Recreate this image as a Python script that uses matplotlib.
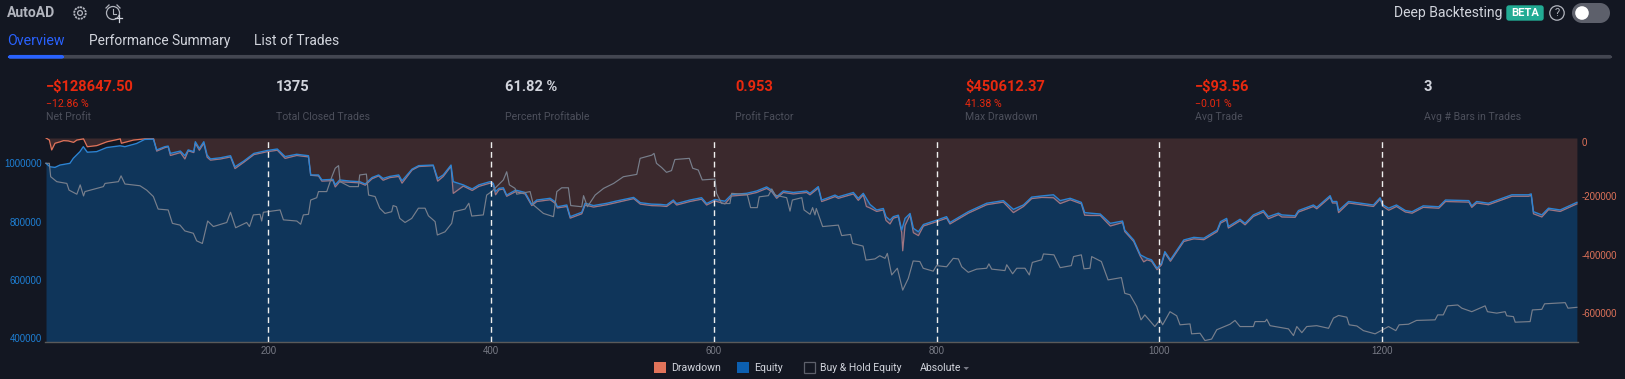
import matplotlib
matplotlib.use("Agg")
import matplotlib.pyplot as plt
from matplotlib.patches import Rectangle, Circle, FancyBboxPatch, Polygon

eq_x = [0.3,3.9,8.4,12.9,21.8,24.8,30.8,33.8,37.4,45.8,54.8,66.8,71.2,81.7,89,96.7,99.7,107,110,112,121,125,128,133,134.4,138,142,145,148,157,166,170,178,187,199,208,215,225.4,236,238,245,248,258,260,264,273,
282,287,293,299,303,309,317,320,329,335,348,352,357,364,366,375,383,389,399,402,404,407,411,414,422,430.5,436.5,441,453,457.5,459.5,468,471,481.4,484.4,492,504,513,528,534,544,552,
557.6,563.6,566.6,578.5,589,593.5,601,610,616,629.4,638.4,647.4,652,656.4,662.4,671.4,683.3,686.3,693.8,696.8,701.3,708.8,711.8,725.3,729.7,734.2,740.2,746.2,752.2,754.6,758.2,761.2,765.7,768.7,771.7,776.2,779.2,783.7,788.2,800.1,809,812,821,828.5,
845,860,869,878,885.4,894.4,905,911,920,930,933,938,947,956,967,969,977,983,989,993,998,1002,1005,1010,1022,1031,1040,1052,1055,1060.5,1062,1072.5,1077,1084.5,1093.5,1098,1107,
1110,1122,1125,1138.4,1141.4,1153.4,1155.5,1159.4,1161,1170,1177.4,1192.3,1198.3,1201,1206,1213,1221,1227,1237,1251,1257,1278,1280.6,1285,1295.6,1316.6,1331.5,1334,1336,1343.5,1349.5,1360,1375]
eq_vals = [1000,988,986,994,1000,1017,1040,1057,1038,1040,1054,1060,1057,1068,1082,1083,1046,1057,1059,1034,1042,1026,1046,1040,1074,1051,1074,1028,1015,1019,1026,988,1008,1034,1044,1049,1023,1031,1026,960,960,943,945,926,943,939,
937,929,951,960,948,955,960,940,980,992,994,948,960,994,937,926,912,926,937,931,903,914,916,891,908,900,859,874,880,868,851,857,817,832,863,855,863,871,883,865,860,859,
857,874,862,874,882,862,876,870,893,897,905,919,908,885,905,900,905,897,920,874,880,891,885,900,880,897,859,840,845,817,805,817,822,771,811,828,777,765,790,805,817,797,817,834,
863,872,842,857,884,888,892,872,880,866,831,829,826,794,802,771,737,686,674,669,640,657,697,669,737,746,743,771,800,811,783,808,794,823,838,817,829,
823,820,838,857,849,889,869,869,838,869,865,857,882,857,846,857,838,834,854,851,874,872,854,869,863,892,892,895,834,823,846,840,866]

bh_x = [0.3,3.3,4.5,10,19,21,28,31,34,35.3,51.8,53.3,65.3,67.7,71.2,84.7,90.7,96.7,101,110,113.8,120.6,125,132.6,135.6,140.7,145.5,150.6,162.6,166,170.6,180.5,183,186.5,192.5,194,195.5,210.5,213.5,225.5,229,231.4,236,238,243.4,245,252.4,257,260,263,264.4,273,
280.8,282,288,290,295.8,300,304.7,310.7,312,315,318,322.7,328.7,334.7,340.7,343.7,349.7,351.7,358.6,364.6,366.7,376.6,380,382.6,393,396,400.5,411,414,416.4,421.5,423,435,438,447,456,459,463.4,469.4,471.5,481.4,483,486.5,493.4,501,510,518.8,530.8,533.8,544.3,546.3,548.5,553,557.5,562,565,578,581,586,589.6,601,602.4,607,614.4,616,
630,633,639,640.8,649,652,655,665.4,668.4,670.5,679,681,686.4,688.7,690.8,692,697.7,711.8,714.8,722.8,724.7,734,736.6,744.7,749,753.7,755.8,759.7,764.8,769.6,774.6,779,785,788,797,800,809,815,819.6,822.6,828.5,
836,845,847,849.5,861.4,863,868.3,872,879.4,883.3,886,894.4,896,905.4,911,921,923,930,932.4,937.8,939.3,948,954,966,969,973.7,979.7,983.6,987,996,1000.7,1003,1009.6,1015.6,1018.6,1027.6,1029,1036.6,1041,1047,1051.6,1063.5,1068,1072.5,1084.5,1086,1095,1096.5,1099.5,1108.4,
1116,1120.5,1123.5,1128,1132.4,1141.4,1152,1156.4,1161,1168.4,1170.5,1177.4,1183.3,1193.8,1205.8,1212.4,1215.4,1223.8,1231,1247.7,1250,1255,1258.8,1268,1271.7,1280.6,1292.6,1294.7,1303,1310.6,1312,1318,1319.6,1333,1335,1343.5,1346,1364.5,1367,1375]
bh_vals = [1000,1000,954,937,931,908,894,926,888,903,920,931,937,957,929,923,908,886,843,840,794,788,768,760,734,725,802,783,797,832,779,797,783,823,825,802,832,840,806,802,791,823,825,874,882,903,903,954,983,992,937,920,
920,960,963,891,886,846,828,834,855,851,811,797,811,846,846,820,800,754,765,794,834,843,863,819,823,891,903,943,971,926,914,894,903,857,828,817,903,916,916,855,851,889,851,891,914,931,954,962,1017,1028,1034,1000,986,969,975,1013,1017,983,977,943,946,897,862,862,897,
893,848,848,885,889,912,891,882,836,874,882,840,825,848,823,845,783,788,752,756,725,716,668,672,683,674,691,617,640,565,605,665,663,640,630,649,645,674,672,645,626,
637,640,655,637,632,652,621,640,640,617,660,669,689,686,642,649,680,686,638,640,680,663,600,608,554,549,509,463,480,440,463,446,491,477,446,449,415,417,392,397,429,448,461,440,440,457,457,465,443,437,
432,409,440,419,440,443,434,469,478,472,446,442,426,415,440,426,446,448,461,463,480,480,511,514,503,491,511,491,486,491,477,474,455,457,497,499,518,522,503,506]

dd_x = [0.3,3.3,5.4,8.4,13,16,20.3,25,28,34,37.4,46,55,67,68,79,89,97,99.7,107,110,112,121,125,128,133,134.4,138,142,145,148,157,166,170,178,187,199,208,215,225.4,236,238,245,248,258,260,264,273,
282,287,293,299,303,309,317,320,329,335,348,352,357,364,366,375,383,389,399,402,404,407,411,414,422,430.5,436.5,441,453,457.5,459.5,468,471,481.4,484.4,492,504,513,528,534,544,552,
557.6,563.6,566.6,578.5,589,593.5,601,610,616,629.4,638.4,647.4,652,656.4,662.4,671.4,683.3,686.3,693.8,696.8,701.3,708.8,711.8,725.3,729.7,734.2,737,740.2,746.2,752.2,754.6,758.2,761.2,765.7,768.7,769.6,771.7,776.2,779.2,783.7,788.2,800.1,809,812,821,828.5,
845,860,869,878,885.4,894.4,905,911,920,930,933,938,947,956,967,969,977,983,986,989,993,998,1002,1005,1010,1022,1031,1040,1052,1055,1060.5,1062,1072.5,1077,1084.5,1093.5,1098,1107,
1110,1122,1125,1138.4,1141.4,1153.4,1155.5,1159.4,1161,1170,1177.4,1192.3,1198.3,1201,1206,1213,1221,1227,1237,1251,1257,1278,1280.6,1285,1295.6,1316.6,1331.5,1334,1336,1343.5,1349.5,1360,1375]
dd_vals = [0,-7,-41,-18,-13,-9,-10,-15,-7,-3,-30,-26,-13,-3,-18,-7,-3,-3,-45,-33,-30,-60,-50,-72,-44,-50,-18,-42,-18,-66,-76,-72,-65,-105,-83,-57,-47,-42,-70,-60,-65,-128,-130,-148,-146,-168,-150,-152,
-154,-162,-140,-130,-145,-136,-132,-155,-110,-98,-95,-148,-132,-97,-190,-165,-180,-166,-155,-160,-195,-178,-175,-200,-184,-192,-232,-218,-212,-224,-240,-235,-275,-260,-230,-237,-229,-221,-208,-227,-232,-233,
-235,-218,-230,-218,-210,-230,-216,-226,-199,-195,-187,-173,-184,-207,-187,-192,-187,-195,-172,-218,-212,-201,-207,-192,-214,-195,-235,-240,-252,-247,-283,-295,-275,-270,-325,-387,-300,-264,-325,-335,-302,-287,-275,-295,-275,-258,
-229,-220,-256,-235,-208,-204,-205,-225,-212,-226,-265,-266,-266,-302,-290,-321,-355,-406,-425,-418,-423,-452,-435,-395,-423,-355,-346,-349,-321,-292,-281,-309,-284,-298,-269,-254,-277,-263,
-271,-272,-254,-235,-243,-203,-223,-223,-256,-223,-227,-235,-210,-235,-248,-235,-254,-258,-238,-241,-218,-220,-238,-223,-229,-200,-200,-197,-260,-271,-246,-252,-226]

x_ticks = [200,400,600,800,1000,1200]
left_ticks = [400000,600000,800000,1000000]
right_ticks = [0,-200000,-400000,-600000]

BG = "#131722"
W, H = 1625, 379
DPI = 100
fig = plt.figure(figsize=(W/DPI, H/DPI), dpi=DPI, facecolor=BG)
plt.rcParams['font.family'] = ['Liberation Sans', 'DejaVu Sans']

rect = [45/W, 1-342/H, (1578-45)/W, (342-138)/H]
axr = fig.add_axes(rect, zorder=1, facecolor=BG)
ax = axr.twinx()
ax.set_zorder(2)
ax.patch.set_visible(False)

eq_k = [v*1000 for v in eq_vals]
bh_k = [v*1000 for v in bh_vals]
dd_k = [v*1000 for v in dd_vals]

# drawdown on the right scale
axr.fill_between(dd_x, dd_k, 0, color="#e0735a", alpha=0.2, lw=0)
axr.plot(dd_x, dd_k, color="#e0735a", lw=0.9)
axr.set_ylim(-700000, 0)
axr.set_xlim(-0.6, 1376)

# equity on the left scale
ax.fill_between(eq_x, eq_k, 387000, color="#097bdd", alpha=0.3, lw=0)
ax.plot(eq_x, eq_k, color="#2b84d4", lw=1.0)
ax.plot(bh_x, bh_k, color="#787f8c", lw=0.85)
ax.set_ylim(387000, 1086800)
ax.set_xlim(-0.6, 1376)

for t in x_ticks:
    ax.axvline(t, color="#eeeeee", lw=1.0, dashes=(4.2, 2.8), zorder=5)

# axes scales
ax.yaxis.tick_left()
axr.yaxis.tick_right()
ax.set_yticks(left_ticks)
ax.set_yticklabels([str(v) for v in left_ticks])
axr.set_yticks(right_ticks)
axr.set_yticklabels([str(v) for v in right_ticks])
axr.set_xticks(x_ticks)
axr.set_xticklabels([str(v) for v in x_ticks])
ax.tick_params(axis='y', length=0, pad=2.5, labelsize=6.9, labelcolor="#1e80d6", labelleft=True, labelright=False)
axr.tick_params(axis='y', length=0, pad=2.8, labelsize=6.9, labelcolor="#e0735a", labelright=True, labelleft=False)
axr.tick_params(axis='x', length=0, pad=3.2, labelsize=6.9, labelcolor="#787b86")
ax.tick_params(axis='x', length=0, labelbottom=False)
axr.get_yticklabels()[0].set_va('top')
for a in (ax, axr):
    for s in a.spines.values():
        s.set_visible(False)
ax.spines['bottom'].set_visible(True)
ax.spines['bottom'].set_color("#5a5a5a")
ax.spines['bottom'].set_linewidth(1.0)

# page furniture in pixel coordinates
ui = fig.add_axes([0, 0, 1, 1], zorder=3)
ui.set_xlim(0, W); ui.set_ylim(H, 0); ui.axis('off'); ui.patch.set_visible(False)
R = 'Roboto'
def T(x, y, s, c, size, weight='normal', ha='left', fam=R):
    ui.text(x, y, s, color=c, fontsize=size, fontweight=weight, ha=ha, va='center', family=fam)

T(7, 13, "AutoAD", "#b2b5be", 10, 'bold')
T(7, 41, "Overview", "#2962ff", 10.2)
T(89, 41, "Performance Summary", "#d1d4dc", 9.9)
T(254.5, 41, "List of Trades", "#d1d4dc", 10)
ui.add_patch(FancyBboxPatch((9, 56), 1602, 1.6, boxstyle="round,pad=0,rounding_size=1.5", fc="#434651", ec="#434651", lw=1.5))
ui.add_patch(FancyBboxPatch((9, 56), 54, 1.6, boxstyle="round,pad=0,rounding_size=1.5", fc="#2962ff", ec="#2962ff", lw=1.5))

RED, WHITE, GREY = "#e8290f", "#d1d4dc", "#4c4f5b"
stats = [
    (45.5, "\u2212$128647.50", RED, "\u221212.86 %", "Net Profit"),
    (276, "1375", WHITE, "", "Total Closed Trades"),
    (505, "61.82 %", WHITE, "", "Percent Profitable"),
    (735, "0.953", RED, "", "Profit Factor"),
    (965, "$450612.37", RED, "41.38 %", "Max Drawdown"),
    (1195, "\u2212$93.56", RED, "\u22120.01 %", "Avg Trade"),
    (1424, "3", WHITE, "", "Avg # Bars in Trades"),
]
for x, big, col, small, lab in stats:
    T(x, 87, big, col, 10.5, 'bold')
    if small:
        T(x, 104, small, RED, 7.6)
    T(x, 117, lab, GREY, 7.6)

T(1394.3, 13, "Deep Backtesting", "#d1d4dc", 10.1)
ui.add_patch(FancyBboxPatch((1507, 6), 36, 14, boxstyle="round,pad=0,rounding_size=2", fc="#22ab94", ec="#22ab94", lw=1))
T(1525, 13, "BETA", "#ffffff", 8, 'bold', ha='center')
ui.add_patch(Circle((1557, 13), 7.2, fc='none', ec="#b2b5be", lw=0.9))
T(1557, 13, "?", "#b2b5be", 8, ha='center')
ui.add_patch(Rectangle((1581, 3), 19, 20, fc="#5d606b", lw=0))
ui.add_patch(Circle((1582, 13), 10, fc="#5d606b", lw=0))
ui.add_patch(Circle((1600, 13), 10, fc="#5d606b", lw=0))
ui.add_patch(Circle((1582, 13), 6.8, fc="#ffffff", lw=0))

# gear icon
ui.add_patch(Circle((80, 13), 5.8, fc='none', ec="#b2b5be", lw=1.3, ls=(0, (1.2, 0.5))))
ui.add_patch(Circle((80, 13), 2.4, fc='none', ec="#b2b5be", lw=0.9))
# alarm icon
ui.add_patch(Circle((113, 13), 6.5, fc=BG, ec="#b2b5be", lw=0.9))
ui.plot([113, 113, 116], [9, 14, 14], color="#b2b5be", lw=0.8)
ui.plot([106, 109], [8, 5], color="#b2b5be", lw=0.9)
ui.plot([117, 120], [5, 8], color="#b2b5be", lw=0.9)
ui.plot([115, 122], [18, 18], color="#d1d4dc", lw=0.9)
ui.plot([118.5, 118.5], [14.5, 21.5], color="#d1d4dc", lw=0.9)

# legend
ui.add_patch(Rectangle((654, 362), 12, 11, fc="#e0735a", lw=0))
ui.add_patch(Rectangle((737, 362), 12, 11, fc="#0c5fb0", lw=0))
ui.add_patch(Rectangle((803.5, 362), 11, 11, fc='none', ec="#5d606b", lw=0.9))
T(670.7, 368, "Drawdown", "#d1d4dc", 7.6)
T(754, 368, "Equity", "#d1d4dc", 7.6)
T(819.5, 368, "Buy & Hold Equity", "#d1d4dc", 7.5)
T(920, 368, "Absolute", "#d1d4dc", 7.6)
ui.add_patch(Polygon([(963.5, 367), (969, 367), (966.2, 370)], fc="#787b86", lw=0))

fig.savefig("out.png", dpi=DPI, facecolor=BG)
